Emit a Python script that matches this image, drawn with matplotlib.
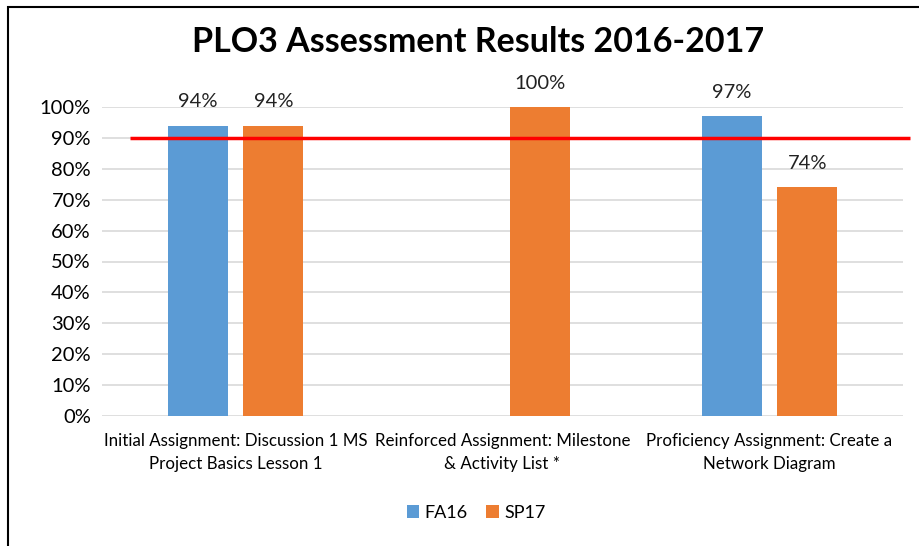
import matplotlib
matplotlib.use("Agg")
import matplotlib.pyplot as plt
import matplotlib.patches as patches
import numpy as np

categories = ["Initial Assignment: Discussion 1 MS\nProject Basics Lesson 1",
              "Reinforced Assignment: Milestone\n& Activity List *",
              "Proficiency Assignment: Create a\nNetwork Diagram"]
fa16 = [94, None, 97]
sp17 = [94, 100, 74]
target = 90

plt.rcParams['font.family'] = ['Lato', 'DejaVu Sans']

fig = plt.figure(figsize=(9.19, 5.46), dpi=100)
ax = fig.add_axes([102 / 919, 1 - 416 / 546, 801 / 919, 309 / 546])

x = np.arange(len(categories))
w = 0.225
off = 0.142
for vals, dx, color, name in [(fa16, -off, '#5B9BD5', 'FA16'), (sp17, off, '#ED7D31', 'SP17')]:
    xs = [xi + dx for xi, v in zip(x, vals) if v is not None]
    vs = [v for v in vals if v is not None]
    ax.bar(xs, vs, width=w, color=color, label=name, zorder=3)
    for xi, v in zip(xs, vs):
        ax.text(xi, v + 5, f"{v}%", ha='center', va='bottom', fontsize=14.5, color='#222222')

ax.plot([-0.395, 2.526], [target, target], color='#FF0000', lw=2.5, zorder=4,
        clip_on=False, solid_capstyle='butt')

ax.set_xlim(-0.5, 2.5)
ax.set_ylim(0, 100)
ax.set_yticks(range(0, 101, 10))
ax.set_yticklabels([f"{t}%" for t in range(0, 101, 10)], fontsize=14.5)
ax.set_xticks(x)
ax.set_xticklabels(categories, fontsize=12.2, linespacing=1.6)
ax.tick_params(length=0)
ax.tick_params(axis='x', pad=12)
ax.tick_params(axis='y', pad=8)
ax.grid(axis='y', color='#D9D9D9', lw=1.2, zorder=0)
for s in ax.spines.values():
    s.set_visible(False)

fig.suptitle("PLO3 Assessment Results 2016-2017", fontsize=24.5, fontweight='bold',
             x=478 / 919, y=1 - 42 / 546, va='center')
fig.legend(loc='center', bbox_to_anchor=(476 / 919, 1 - 513 / 546), ncol=2, frameon=False, fontsize=13,
           handlelength=0.7, handleheight=0.7, handletextpad=0.3, columnspacing=1.0)

fig.add_artist(patches.Rectangle((8 / 919, -0.1), 1.1, 1.1 - 7 / 546, transform=fig.transFigure,
                                 fill=False, edgecolor='black', lw=1.5))

fig.savefig("out.png", dpi=100)
